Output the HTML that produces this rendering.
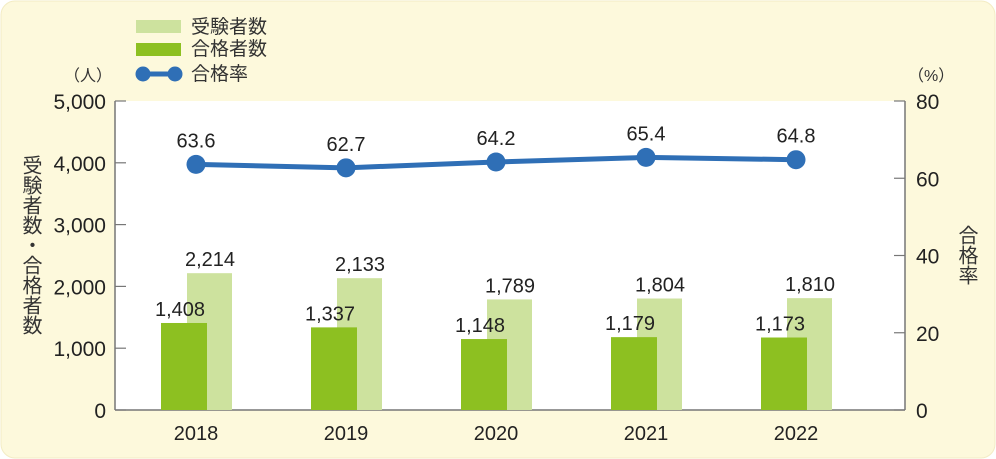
<!DOCTYPE html>
<html><head><meta charset="utf-8"><style>
body{margin:0;width:996px;height:459px;overflow:hidden;background:#fff;}
svg{display:block;font-family:"Liberation Sans","Noto Sans CJK JP",sans-serif;}
</style></head><body>
<svg id="chart" width="996" height="459">
<rect x="1" y="1" width="994" height="457" rx="14" fill="#fdf9dc" stroke="#f3ecc4"/>
<rect x="115" y="101" width="790" height="309" fill="#fff"/>
<g id="legend">
<g><rect x="136" y="20" width="45" height="13" fill="#cde29e"/><text x="191" y="33" font-size="19" fill="#333">受験者数</text></g>
<g><rect x="136" y="43" width="45" height="13" fill="#8dc021"/><text x="191" y="55" font-size="19" fill="#333">合格者数</text></g>
<g><line x1="143" y1="74" x2="175" y2="74" stroke="#2f6fb6" stroke-width="5"/><circle cx="143" cy="74" r="7.5" fill="#2f6fb6"/><circle cx="175" cy="74" r="7.5" fill="#2f6fb6"/><text x="191" y="80" font-size="19" fill="#333">合格率</text></g>
</g>
<text x="64" y="81" font-size="16" fill="#333">（人）</text>
<text x="908" y="81" font-size="16" fill="#333">（%）</text>
<text x="30" y="155" font-size="20" fill="#333" writing-mode="tb">受験者数・合格者数</text>
<text x="966" y="225" font-size="20" fill="#333" writing-mode="tb">合格率</text>
<g id="axes"></g>
<g id="bars"></g>
<g id="line"></g>
</svg>
<script>
const categories=["2018","2019","2020","2021","2022"];
const examinees=[2214,2133,1789,1804,1810];
const passers=[1408,1337,1148,1179,1173];
const passRate=[63.6,62.7,64.2,65.4,64.8];
const leftTicks=[0,1000,2000,3000,4000,5000];
const rightTicks=[0,20,40,60,80];
const NS="http://www.w3.org/2000/svg";
const yL=v=>410-v*(309/5000);
const yR=v=>410-v*(309/80);
const xC=i=>196+i*150;
function mk(tag,attrs,parent,text){const e=document.createElementNS(NS,tag);for(const k in attrs)e.setAttribute(k,attrs[k]);if(text!==undefined)e.textContent=text;parent.appendChild(e);return e;}
const fmt=v=>v.toLocaleString("en-US");
const axes=document.getElementById("axes");
let a=mk("line",{x1:115,y1:101,x2:115,y2:410,stroke:"#777","stroke-width":1.5},axes);


a=mk("line",{x1:905,y1:101,x2:905,y2:410,stroke:"#777","stroke-width":1.5},axes);


a=mk("line",{x1:115,y1:410,x2:905,y2:410,stroke:"#777","stroke-width":1.5},axes);


leftTicks.forEach(v=>{const y=yL(v);
 const t=mk("line",{x1:115,y1:y,x2:126,y2:y,stroke:"#777","stroke-width":1.2},axes);
 
 
 const l=mk("text",{x:106,y:y+8,"font-size":21,fill:"#222","text-anchor":"end"},axes,fmt(v));
 
 });
rightTicks.forEach(v=>{const y=yR(v);
 const t=mk("line",{x1:894,y1:y,x2:905,y2:y,stroke:"#777","stroke-width":1.2},axes);
 
 
 const l=mk("text",{x:916,y:y+8,"font-size":21,fill:"#222"},axes,String(v));
 
 });
categories.forEach((c,i)=>{const l=mk("text",{x:xC(i),y:440,"font-size":20,fill:"#222","text-anchor":"middle"},axes,c);
 
 });
const bars=document.getElementById("bars");
categories.forEach((c,i)=>{const x=xC(i);
 const lb=mk("rect",{x:x-9,y:yL(examinees[i]),width:45,height:410-yL(examinees[i]),fill:"#cde29e"},bars);
 
 
 const db=mk("rect",{x:x-35,y:yL(passers[i]),width:46,height:410-yL(passers[i]),fill:"#8dc021"},bars);
 
 
 const t1=mk("text",{x:x+14,y:yL(examinees[i])-7,"font-size":20,fill:"#222","text-anchor":"middle"},bars,fmt(examinees[i]));
 
 
 const t2=mk("text",{x:x-16,y:yL(passers[i])-7,"font-size":20,fill:"#222","text-anchor":"middle"},bars,fmt(passers[i]));
 
 });
const line=document.getElementById("line");
const pl=mk("polyline",{points:passRate.map((v,i)=>xC(i)+","+yR(v)).join(" "),fill:"none",stroke:"#2f6fb6","stroke-width":5},line);


passRate.forEach((v,i)=>{
 const p=mk("circle",{cx:xC(i),cy:yR(v),r:9.5,fill:"#2f6fb6"},line);
 
 
 const t=mk("text",{x:xC(i),y:yR(v)-17,"font-size":20,fill:"#222","text-anchor":"middle"},line,v.toFixed(1));
 
 });
</script>
</body></html>
